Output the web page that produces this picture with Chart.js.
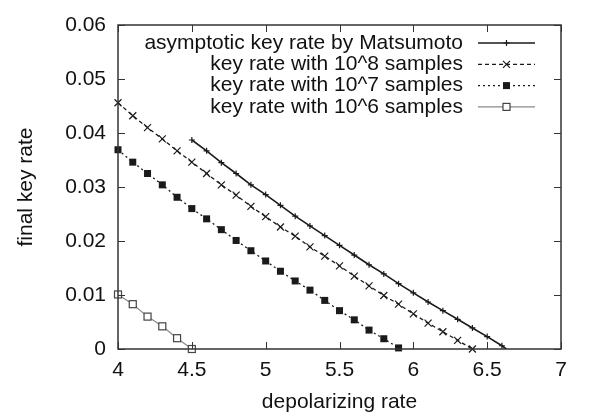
<!DOCTYPE html>
<html>
<head>
<meta charset="utf-8">
<script src="https://cdn.jsdelivr.net/npm/chart.js@4"></script>
<style>
html, body { margin: 0; padding: 0; background: #fff; }
</style>
</head>
<body>
<canvas id="myChart" width="600" height="419"></canvas>
<script>
// Dados
const depolMatsumoto = [4.5, 4.6, 4.7, 4.8, 4.9, 5.0, 5.1, 5.2, 5.3, 5.4, 5.5, 5.6, 5.7, 5.8, 5.9, 6.0, 6.1, 6.2, 6.3, 6.4, 6.5, 6.6, 6.63];
const rateMatsumoto = [0.0387, 0.0367, 0.0345, 0.0325, 0.0304, 0.0286, 0.0266, 0.0246, 0.0228, 0.0210, 0.0192, 0.0174, 0.0156, 0.0139, 0.0121, 0.0104, 0.0087, 0.0071, 0.0055, 0.0039, 0.0023, 0.0006, 0];

const depol1e8 = [4.0, 4.1, 4.2, 4.3, 4.4, 4.5, 4.6, 4.7, 4.8, 4.9, 5.0, 5.1, 5.2, 5.3, 5.4, 5.5, 5.6, 5.7, 5.8, 5.9, 6.0, 6.1, 6.2, 6.3, 6.4];
const rate1e8 = [0.0456, 0.0432, 0.0410, 0.0389, 0.0367, 0.0346, 0.0325, 0.0304, 0.0285, 0.0264, 0.0245, 0.0226, 0.0209, 0.0189, 0.0172, 0.0154, 0.0135, 0.0117, 0.0099, 0.0083, 0.0065, 0.0048, 0.0032, 0.0016, 0.0000];

const depol1e7 = [4.0, 4.1, 4.2, 4.3, 4.4, 4.5, 4.6, 4.7, 4.8, 4.9, 5.0, 5.1, 5.2, 5.3, 5.4, 5.5, 5.6, 5.7, 5.8, 5.9];
const rate1e7 = [0.0369, 0.0346, 0.0325, 0.0304, 0.0281, 0.0260, 0.0241, 0.0221, 0.0201, 0.0182, 0.0163, 0.0144, 0.0126, 0.0109, 0.0090, 0.0071, 0.0054, 0.0035, 0.0019, 0.0002];

const depol1e6 = [4.0, 4.1, 4.2, 4.3, 4.4, 4.5];
const rate1e6 = [0.0101, 0.0083, 0.0060, 0.0042, 0.0020, 0.0000];

const seriesLabels = [
    'asymptotic key rate by Matsumoto',
    'key rate with 10^8 samples',
    'key rate with 10^7 samples',
    'key rate with 10^6 samples'
];
const xTicks = [4, 4.5, 5, 5.5, 6, 6.5, 7];
const yTicks = [0, 0.01, 0.02, 0.03, 0.04, 0.05, 0.06];

const FONT = "'Liberation Sans', Arial, Helvetica, sans-serif";
const FSIZE = 21;
const AXIS = '#333';

function toPoints(xs, ys) {
    return xs.map((x, i) => ({ x: x, y: ys[i] }));
}

// desenha o marcador de cada série (também usado na legenda)
function drawMarker(ctx, kind, x, y, color) {
    ctx.save();
    ctx.setLineDash([]);
    ctx.strokeStyle = color;
    ctx.fillStyle = color;
    ctx.lineWidth = 1.2;
    if (kind === 'plus') {
        ctx.beginPath();
        ctx.moveTo(x - 3, y); ctx.lineTo(x + 3, y);
        ctx.moveTo(x, y - 3); ctx.lineTo(x, y + 3);
        ctx.stroke();
    } else if (kind === 'cross') {
        ctx.beginPath();
        ctx.moveTo(x - 3.5, y - 3.5); ctx.lineTo(x + 3.5, y + 3.5);
        ctx.moveTo(x - 3.5, y + 3.5); ctx.lineTo(x + 3.5, y - 3.5);
        ctx.stroke();
    } else if (kind === 'fsquare') {
        ctx.fillRect(x - 3.5, y - 3.5, 7, 7);
    } else if (kind === 'osquare') {
        ctx.fillStyle = '#fff';
        ctx.fillRect(x - 3.5, y - 3.5, 7, 7);
        ctx.strokeRect(x - 3.5, y - 3.5, 7, 7);
    }
    ctx.restore();
}

const markerKinds = ['plus', 'cross', 'fsquare', 'osquare'];

const frameAndLegend = {
    id: 'frameAndLegend',
    afterDatasetsDraw(chart) {
        const ctx = chart.ctx;
        const a = chart.chartArea;
        const xs = chart.scales.x;
        const ys = chart.scales.y;

        // marcadores por cima das linhas
        chart.data.datasets.forEach((ds, i) => {
            const meta = chart.getDatasetMeta(i);
            meta.data.forEach((pt, j) => {
                if (ds.noMarker && ds.noMarker.includes(j)) return;
                drawMarker(ctx, markerKinds[i], pt.x, pt.y, ds.markerColor);
            });
        });

        // moldura e ticks para dentro (estilo gnuplot)
        ctx.save();
        ctx.strokeStyle = AXIS;
        ctx.lineWidth = 1.5;
        ctx.strokeRect(a.left, a.top, a.right - a.left, a.bottom - a.top);
        ctx.lineWidth = 1;
        ctx.beginPath();
        xTicks.forEach(v => {
            const px = Math.round(xs.getPixelForValue(v)) + 0.5;
            ctx.moveTo(px, a.bottom); ctx.lineTo(px, a.bottom - 7);
            ctx.moveTo(px, a.top); ctx.lineTo(px, a.top + 7);
        });
        yTicks.forEach(v => {
            const py = Math.round(ys.getPixelForValue(v)) + 0.5;
            ctx.moveTo(a.left, py); ctx.lineTo(a.left + 7, py);
            ctx.moveTo(a.right, py); ctx.lineTo(a.right - 7, py);
        });
        ctx.stroke();

        // legenda no canto superior direito
        ctx.font = FSIZE + 'px ' + FONT;
        ctx.textAlign = 'right';
        ctx.textBaseline = 'middle';
        const textRight = a.right - 98;
        const lineL = a.right - 83;
        const lineR = a.right - 26;
        chart.data.datasets.forEach((ds, i) => {
            const y = a.top + 18 + i * 21.3;
            ctx.fillStyle = '#111';
            ctx.fillText(ds.label, textRight, y);
            ctx.strokeStyle = ds.borderColor;
            ctx.lineWidth = ds.borderWidth;
            ctx.setLineDash(ds.borderDash || []);
            ctx.beginPath();
            ctx.moveTo(lineL, y); ctx.lineTo(lineR, y);
            ctx.stroke();
            drawMarker(ctx, markerKinds[i], (lineL + lineR) / 2, y, ds.markerColor);
        });
        ctx.restore();
    }
};

const ctx = document.getElementById('myChart').getContext('2d');
new Chart(ctx, {
    type: 'line',
    data: {
        datasets: [{
            label: seriesLabels[0],
            data: toPoints(depolMatsumoto, rateMatsumoto),
            borderColor: '#1a1a1a',
            borderWidth: 1.6,
            markerColor: '#1a1a1a',
            noMarker: [depolMatsumoto.length - 1]
        }, {
            label: seriesLabels[1],
            data: toPoints(depol1e8, rate1e8),
            borderColor: '#1a1a1a',
            borderWidth: 1.3,
            borderDash: [4, 3],
            markerColor: '#1a1a1a'
        }, {
            label: seriesLabels[2],
            data: toPoints(depol1e7, rate1e7),
            borderColor: '#1a1a1a',
            borderWidth: 1.3,
            borderDash: [2, 3],
            markerColor: '#1a1a1a'
        }, {
            label: seriesLabels[3],
            data: toPoints(depol1e6, rate1e6),
            borderColor: '#8a8a8a',
            borderWidth: 1.2,
            markerColor: '#444'
        }]
    },
    options: {
        responsive: false,
        animation: false,
        events: [],
        elements: {
            point: { radius: 0 },
            line: { tension: 0, fill: false }
        },
        layout: { padding: { top: 25, right: 39, left: 0, bottom: 0 } },
        plugins: {
            legend: { display: false },
            tooltip: { enabled: false }
        },
        scales: {
            x: {
                type: 'linear',
                min: 4,
                max: 7,
                afterFit: s => { s.height = 70; },
                afterBuildTicks: s => { s.ticks = xTicks.map(v => ({ value: v })); },
                grid: { display: false, drawTicks: false },
                border: { display: false },
                ticks: { color: '#111', font: { family: FONT, size: FSIZE }, padding: 9, callback: v => String(v) },
                title: { display: true, text: 'depolarizing rate', color: '#111', font: { family: FONT, size: FSIZE }, padding: { top: 2 } }
            },
            y: {
                type: 'linear',
                min: 0,
                max: 0.06,
                afterFit: s => { s.width = 118; },
                afterBuildTicks: s => { s.ticks = yTicks.map(v => ({ value: v })); },
                grid: { display: false, drawTicks: false },
                border: { display: false },
                ticks: { color: '#111', font: { family: FONT, size: FSIZE }, padding: 12, callback: v => String(v) },
                title: { display: true, text: 'final key rate', color: '#111', font: { family: FONT, size: FSIZE }, padding: { top: 14, bottom: 0 } }
            }
        }
    },
    plugins: [frameAndLegend]
});
</script>
</body>
</html>
